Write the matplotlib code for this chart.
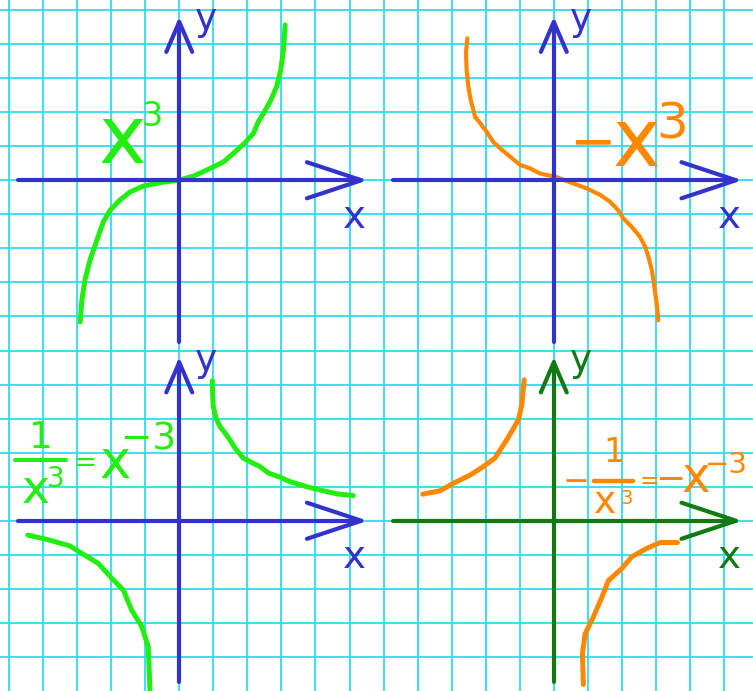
#!/usr/bin/env python3
"""
Sketch of x^3, -x^3, x^-3 and -x^-3 drawn on squared paper.

All curve values are in grid cells, relative to the origin of each panel.
"""
import matplotlib
matplotlib.use("Agg")
import matplotlib.pyplot as plt

# grid paper: 22 columns x 20 rows
N_COLS = 22
N_ROWS = 20

# panel origins (grid cells, y goes up)
panel_origins = {"tl": (5, -5), "tr": (16, -5), "bl": (5, -15), "br": (16, -15)}

# y = x^3
cube_x = [-2.91, -2.86, -2.77, -2.62, -2.42, -2.23, -2.03, -1.74, -1.44, -1.05,
          -0.56, 0.02, 0.41, 0.81, 1.30, 1.59, 1.93, 2.18, 2.32, 2.47,
          2.67, 2.86, 2.98, 3.06, 3.11]
cube_y = [-4.16, -3.52, -2.93, -2.34, -1.76, -1.22, -0.88, -0.58, -0.34, -0.17,
          -0.07, 0.01, 0.12, 0.30, 0.54, 0.79, 1.10, 1.38, 1.72, 1.96,
          2.31, 2.75, 3.24, 3.82, 4.56]

# y = -x^3
neg_cube_x = [-2.54, -2.58, -2.56, -2.51, -2.44, -2.31, -2.12, -1.97, -1.78, -1.58,
              -1.34, -0.99, -0.70, -0.41, 0.09, 0.48, 0.97, 1.36, 1.65, 1.89,
              2.04, 2.29, 2.53, 2.68, 2.78, 2.88, 2.94, 3.02, 3.07]
neg_cube_y = [4.17, 3.73, 3.24, 2.75, 2.36, 1.86, 1.62, 1.42, 1.13, 0.94,
              0.74, 0.45, 0.35, 0.20, 0.09, -0.06, -0.24, -0.43, -0.63, -0.88,
              -1.12, -1.37, -1.66, -1.95, -2.25, -2.64, -3.03, -3.62, -4.11]

# y = x^-3, two branches
inv_right_x = [0.97, 0.98, 1.00, 1.08, 1.20, 1.35, 1.49, 1.64, 1.88, 2.13,
               2.37, 2.62, 2.96, 3.25, 3.74, 4.23, 4.63, 5.11]
inv_right_y = [4.11, 3.74, 3.35, 3.01, 2.76, 2.57, 2.37, 2.13, 1.84, 1.71,
               1.59, 1.40, 1.28, 1.15, 1.00, 0.88, 0.79, 0.74]
inv_left_x = [-4.45, -3.84, -3.21, -2.86, -2.38, -1.98, -1.64, -1.40, -1.10, -0.91, -0.86]
inv_left_y = [-0.42, -0.56, -0.74, -0.96, -1.25, -1.69, -2.04, -2.62, -3.11, -3.70, -4.97]

# y = -x^-3, two branches
neg_inv_left_x = [-3.85, -3.34, -2.95, -2.46, -2.07, -1.73, -1.38, -1.04, -0.94, -0.87]
neg_inv_left_y = [0.78, 0.88, 1.10, 1.34, 1.59, 1.84, 2.38, 2.96, 3.41, 4.14]
neg_inv_right_x = [3.63, 3.12, 2.73, 2.29, 1.99, 1.60, 1.41, 1.16, 0.92, 0.84, 0.87]
neg_inv_right_y = [-0.64, -0.64, -0.81, -1.06, -1.41, -1.76, -2.25, -2.83, -3.32, -3.91, -4.81]

GRID = "#2BDDEE"
BLUE = "#3333CC"
DARK_GREEN = "#127A12"
GREEN = "#22EE11"
ORANGE = "#FF8800"

U = 34.05  # pixels per grid cell


def shift(panel, xs, ys):
    ox, oy = panel_origins[panel]
    return [ox + x for x in xs], [oy + y for y in ys]


def draw_axes(ax, panel, color):
    ox, oy = panel_origins[panel]
    kw = dict(color=color, lw=3.0, solid_capstyle="round", zorder=3)
    x0, x1 = ox - 4.73, ox + 5.35
    y0, y1 = oy - 4.75, oy + 4.65
    ax.plot([x0, x1], [oy, oy], **kw)
    ax.plot([x1 - 1.6, x1, x1 - 1.6], [oy + 0.53, oy, oy - 0.53], **kw)
    ax.plot([ox, ox], [y0, y1], **kw)
    ax.plot([ox - 0.38, ox, ox + 0.38], [y1 - 0.88, y1, y1 - 0.88], **kw)
    ax.text(ox + 0.79, oy + 4.41, "y", color=color, fontsize=27,
            ha="center", va="baseline", zorder=4)
    ax.text(ox + 5.15, oy - 1.40, "x", color=color, fontsize=28,
            ha="center", va="baseline", zorder=4)


def put(ax, panel, x, y, s, size, color, ha="left"):
    ox, oy = panel_origins[panel]
    ax.text(ox + x, oy + y, s, fontsize=size, color=color,
            ha=ha, va="baseline", family="DejaVu Sans", zorder=4)


def bar(ax, panel, x0, x1, y, color, lw=2.9):
    ox, oy = panel_origins[panel]
    ax.plot([ox + x0, ox + x1], [oy + y, oy + y], color=color, lw=lw,
            solid_capstyle="round", zorder=4)


def main():
    fig = plt.figure(figsize=(7.53, 6.91), dpi=100)
    ax = fig.add_axes([0, 0, 1, 1])
    ax.set_xlim(-9 / U, (753 - 9) / U)
    ax.set_ylim(-(691 - 10) / U, 10 / U)
    ax.axis("off")

    for k in range(N_COLS):
        ax.axvline(k, color=GRID, lw=1.3, zorder=1)
    for k in range(N_ROWS):
        ax.axhline(-k, color=GRID, lw=1.3, zorder=1)

    draw_axes(ax, "tl", BLUE)
    draw_axes(ax, "tr", BLUE)
    draw_axes(ax, "bl", BLUE)
    draw_axes(ax, "br", DARK_GREEN)

    ckw = dict(solid_capstyle="round", solid_joinstyle="round", zorder=2)
    ax.plot(*shift("tl", cube_x, cube_y), color=GREEN, lw=3.6, **ckw)
    ax.plot(*shift("tr", neg_cube_x, neg_cube_y), color=ORANGE, lw=3.0, **ckw)
    ax.plot(*shift("bl", inv_right_x, inv_right_y), color=GREEN, lw=3.6, **ckw)
    ax.plot(*shift("bl", inv_left_x, inv_left_y), color=GREEN, lw=3.6, **ckw)
    ax.plot(*shift("br", neg_inv_left_x, neg_inv_left_y), color=ORANGE, lw=3.6, **ckw)
    ax.plot(*shift("br", neg_inv_right_x, neg_inv_right_y), color=ORANGE, lw=3.6, **ckw)

    # x^3
    put(ax, "tl", -2.36, 0.51, "x", 58, GREEN)
    put(ax, "tl", -1.10, 1.59, "3", 24, GREEN)

    # -x^3
    put(ax, "tr", 0.45, 0.61, "\u2212", 40, ORANGE)
    put(ax, "tr", 1.74, 0.42, "x", 58, ORANGE)
    put(ax, "tr", 3.00, 1.24, "3", 36, ORANGE)

    # 1/x^3 = x^-3
    put(ax, "bl", -4.07, 2.14, "1", 27, GREEN, ha="center")
    bar(ax, "bl", -4.82, -3.32, 1.77, GREEN)
    put(ax, "bl", -4.62, 0.52, "x", 34, GREEN)
    put(ax, "bl", -3.88, 0.99, "3", 20, GREEN)
    put(ax, "bl", -3.09, 1.46, "=", 20, GREEN)
    put(ax, "bl", -2.33, 1.26, "x", 38, GREEN)
    put(ax, "bl", -1.71, 2.08, "\u22123", 27, GREEN)

    # -1/x^3 = -x^-3
    put(ax, "br", 0.26, 0.87, "\u2212", 23, ORANGE)
    bar(ax, "br", 1.18, 2.32, 1.18, ORANGE, lw=3.2)
    put(ax, "br", 1.78, 1.73, "1", 24, ORANGE, ha="center")
    put(ax, "br", 1.18, 0.23, "x", 27, ORANGE)
    put(ax, "br", 1.95, 0.49, "3", 14, ORANGE)
    put(ax, "br", 2.52, 0.97, "=", 17, ORANGE)
    put(ax, "br", 2.97, 0.90, "\u2212", 26, ORANGE)
    put(ax, "br", 3.74, 0.85, "x", 35, ORANGE)
    put(ax, "br", 4.43, 1.40, "\u22123", 21, ORANGE)

    fig.savefig("out.png", dpi=100)
    plt.close(fig)


if __name__ == "__main__":
    main()
